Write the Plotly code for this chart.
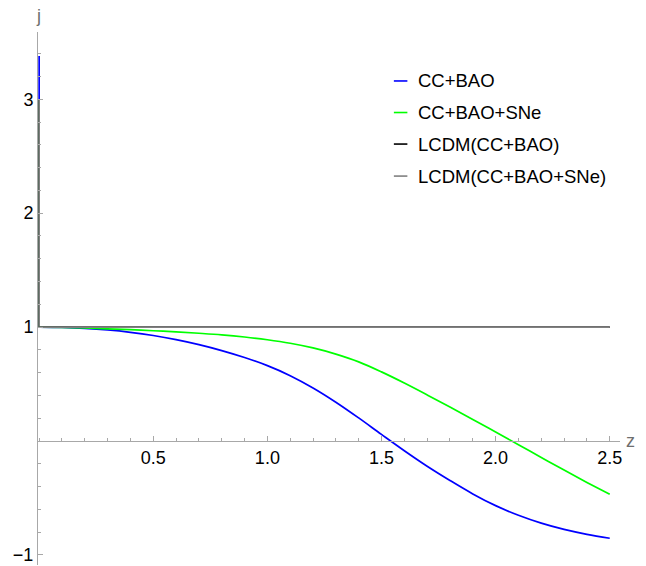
import plotly.graph_objects as go

# Jerk parameter j(z) for the reconstructed models
z = [0.0, 0.1, 0.2, 0.3, 0.4, 0.5, 0.6, 0.7, 0.8, 0.9, 1.0, 1.1, 1.2,
     1.3, 1.4, 1.5, 1.6, 1.7, 1.8, 1.9, 2.0, 2.1, 2.2, 2.3, 2.4, 2.5]
j_cc_bao = [1.000, 0.997, 0.989, 0.975, 0.954, 0.926, 0.890, 0.846, 0.794,
            0.733, 0.662, 0.574, 0.466, 0.341, 0.203, 0.058, -0.085, -0.221,
            -0.346, -0.464, -0.567, -0.652, -0.721, -0.776, -0.819, -0.853]
j_cc_bao_sne = [1.000, 0.997, 0.992, 0.985, 0.977, 0.968, 0.958, 0.946, 0.932,
                0.913, 0.889, 0.858, 0.817, 0.763, 0.695, 0.607, 0.509, 0.405,
                0.298, 0.189, 0.079, -0.032, -0.144, -0.255, -0.363, -0.468]
j_lcdm_cc_bao = [1.0] * len(z)
j_lcdm_cc_bao_sne = [1.0] * len(z)

# Numerical spike of each curve at z = 0 (from j = 1 up to these values)
spike_z = [0.0, 0.0]
spike_top = [3.38, 3.0, 3.0, 3.0]

names = ["CC+BAO", "CC+BAO+SNe", "LCDM(CC+BAO)", "LCDM(CC+BAO+SNe)"]
colors = ["#0000ff", "#00ff00", "#000000", "#808080"]
series = [j_cc_bao, j_cc_bao_sne, j_lcdm_cc_bao, j_lcdm_cc_bao_sne]

x_ticks = [0.5, 1.0, 1.5, 2.0, 2.5]
x_ticktext = ["0.5", "1.0", "1.5", "2.0", "2.5"]
y_ticks = [-1, 1, 2, 3]
y_ticktext = ["\u22121", "1", "2", "3"]

x_range = [-0.005, 2.545]
y_range = [-1.088, 3.59]

FONT = "Liberation Sans, Arial, sans-serif"
AXIS_COLOR = "#a8a8a8"
LABEL_COLOR = "#6e6e6e"
LW = 1.7

fig = go.Figure()

for name, color, vals, top in zip(names, colors, series, spike_top):
    fig.add_trace(go.Scatter(
        x=spike_z, y=[vals[0], top], mode="lines",
        line=dict(color=color, width=LW), showlegend=False, hoverinfo="skip"))

for name, color, vals in zip(names, colors, series):
    fig.add_trace(go.Scatter(
        x=z, y=vals, mode="lines", name=name,
        line=dict(color=color, width=LW, shape="spline", smoothing=1.0),
        showlegend=False))

# Legend drawn as short line samples with text
legend_y = [52, 85.5, 119, 153]  # pixel rows from the top of the figure
W, H = 646, 566
for name, color, ypix in zip(names, colors, legend_y):
    yp = 1 - ypix / H
    fig.add_shape(type="line", xref="paper", yref="paper",
                  x0=395 / W, x1=410 / W, y0=yp, y1=yp,
                  line=dict(color=color, width=1.6))
    fig.add_annotation(xref="paper", yref="paper", x=420 / W, y=yp,
                       text=name, showarrow=False, xanchor="left",
                       yanchor="middle", font=dict(family=FONT, size=18.5, color="black"))

margin = dict(l=38, r=26, t=32, b=1)
plot_h = H - margin["t"] - margin["b"]
plot_w = W - margin["l"] - margin["r"]

# Axis titles at the ends of the axes
fig.add_annotation(xref="paper", yref="paper", x=0, y=1 + 16 / plot_h,
                   text="j", showarrow=False, xanchor="center", yanchor="middle",
                   font=dict(family=FONT, size=18, color=LABEL_COLOR))
x_axis_pos = (0 - y_range[0]) / (y_range[1] - y_range[0])
fig.add_annotation(xref="paper", yref="paper", x=1 + 10 / plot_w, y=x_axis_pos,
                   text="z", showarrow=False, xanchor="center", yanchor="middle",
                   font=dict(family=FONT, size=18, color=LABEL_COLOR))

fig.update_layout(
    width=W, height=H, margin=margin,
    paper_bgcolor="white", plot_bgcolor="white",
    font=dict(family=FONT, size=18, color="black"),
    xaxis=dict(
        range=x_range, anchor="free", position=x_axis_pos,
        showgrid=False, zeroline=False,
        showline=True, linecolor=AXIS_COLOR, linewidth=1,
        ticks="inside", ticklen=5, tickwidth=1, tickcolor=AXIS_COLOR,
        tickmode="array", tickvals=x_ticks, ticktext=x_ticktext,
        minor=dict(dtick=0.1, tick0=0, ticks="inside", ticklen=3,
                   tickcolor=AXIS_COLOR, showgrid=False),
        tickfont=dict(family=FONT, size=18, color="black"),
    ),
    yaxis=dict(
        range=y_range, showgrid=False, zeroline=False,
        showline=True, linecolor=AXIS_COLOR, linewidth=1,
        ticks="inside", ticklen=5, tickwidth=1, tickcolor=AXIS_COLOR,
        tickmode="array", tickvals=y_ticks, ticktext=y_ticktext,
        minor=dict(dtick=0.2, tick0=0, ticks="inside", ticklen=3,
                   tickcolor=AXIS_COLOR, showgrid=False),
        tickfont=dict(family=FONT, size=18, color="black"),
    ),
)

fig.write_html("out.html")
